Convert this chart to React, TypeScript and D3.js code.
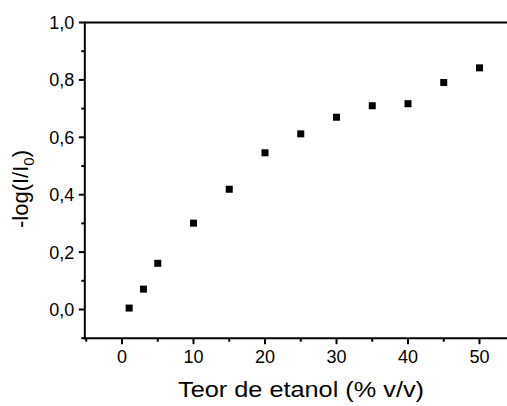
import React from "react";
import * as d3 from "d3";

const xValues: number[] = [1, 3, 5, 10, 15, 20, 25, 30, 35, 40, 45, 50];
const yValues: number[] = [0.005, 0.071, 0.161, 0.301, 0.419, 0.546, 0.612, 0.670, 0.710, 0.717, 0.791, 0.842];
const xMajorTicks: number[] = [0, 10, 20, 30, 40, 50];
const xMinorTicks: number[] = [-5, 5, 15, 25, 35, 45];
const yMajorTicks: number[] = [0, 0.2, 0.4, 0.6, 0.8, 1.0];
const yMinorTicks: number[] = [-0.1, 0.1, 0.3, 0.5, 0.7, 0.9];
const xTitle = "Teor de etanol (% v/v)";

const W = 507;
const H = 406;

export default function App() {
  const x = d3.scaleLinear().domain([0, 50]).range([122, 479.5]);
  const y = d3.scaleLinear().domain([0, 1]).range([309.5, 22.5]);
  const xMin = -5.2;
  const xMax = 56;
  const yMin = -0.1;
  const yMax = 1.0;
  const fmt = (v: number) => d3.format(".1f")(v).replace(".", ",");
  const font = "Liberation Sans, Arial, sans-serif";
  const left = x(xMin);
  const bottom = y(yMin);
  const top = y(yMax);
  const right = x(xMax);
  const ms = 7;

  return (
    <svg
      width={W}
      height={H}
      style={{ position: "absolute", left: 0, top: 0, background: "#fff" }}
      fontFamily={font}
    >
      <rect x={0} y={0} width={W} height={H} fill="#fff" />
      <g stroke="#000" strokeWidth={2} fill="none">
        <line x1={left} y1={top} x2={right} y2={top} />
        <line x1={left - 1} y1={bottom} x2={right} y2={bottom} />
        <line x1={left} y1={top - 1} x2={left} y2={bottom + 1} />
        <line x1={right} y1={top} x2={right} y2={bottom} />
      </g>
      <g stroke="#000" strokeWidth={2}>
        {xMajorTicks.map((t) => (
          <line key={"xm" + t} x1={x(t)} x2={x(t)} y1={bottom} y2={bottom + 6} />
        ))}
        {xMinorTicks.map((t) => (
          <line key={"xn" + t} x1={x(t)} x2={x(t)} y1={bottom} y2={bottom + 3.5} />
        ))}
        {yMajorTicks.map((t) => (
          <line key={"ym" + t} x1={left} x2={left - 6} y1={y(t)} y2={y(t)} />
        ))}
        {yMinorTicks.map((t) => (
          <line key={"yn" + t} x1={left} x2={left - 3.5} y1={y(t)} y2={y(t)} />
        ))}
      </g>
      <g fontSize={18} fill="#000">
        {xMajorTicks.map((t) => (
          <text key={"xl" + t} x={x(t)} y={bottom + 25} textAnchor="middle">
            {String(t)}
          </text>
        ))}
        {yMajorTicks.map((t) => (
          <text key={"yl" + t} x={left - 10.5} y={y(t) + 6.5} textAnchor="end">
            {fmt(t)}
          </text>
        ))}
      </g>
      <text
        x={178}
        y={397}
        fontSize={21.5}
        fill="#000"
        textLength={246}
        lengthAdjust="spacingAndGlyphs"
      >
        {xTitle}
      </text>
      <text
        transform={`translate(27.5, 189) rotate(-90)`}
        textAnchor="middle"
        fontSize={22}
        fill="#000"
      >
        -log(I/I
        <tspan fontSize={15} dy={6}>0</tspan>
        <tspan dy={-6}>)</tspan>
      </text>
      <g fill="#000">
        {xValues.map((xv, i) => (
          <rect
            key={"p" + i}
            x={x(xv) - ms / 2}
            y={y(yValues[i]) - ms / 2}
            width={ms}
            height={ms}
          />
        ))}
      </g>
    </svg>
  );
}
